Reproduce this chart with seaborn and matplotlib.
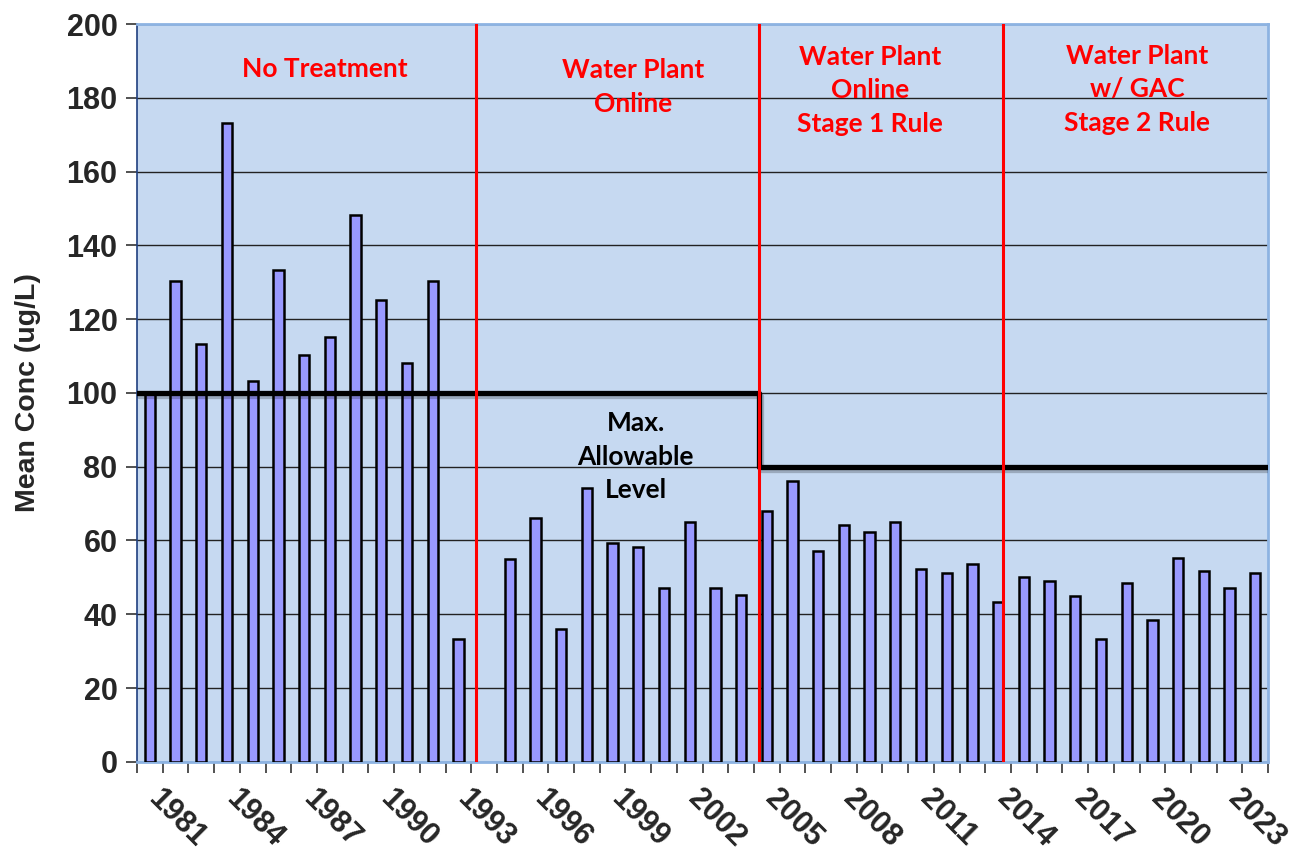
import matplotlib
matplotlib.use("Agg")
import matplotlib.pyplot as plt
import matplotlib.patheffects as pe
from matplotlib.ticker import FixedLocator, NullFormatter
from matplotlib.transforms import ScaledTranslation
import seaborn as sns
import pandas as pd

# years shown on the axis (1994 has no sample)
years = list(range(1981, 2025))
sample_years = [1981, 1982, 1983, 1984, 1985, 1986, 1987, 1988, 1989, 1990, 1991, 1992, 1993,
                1995, 1996, 1997, 1998, 1999, 2000, 2001, 2002, 2003, 2004, 2005, 2006, 2007,
                2008, 2009, 2010, 2011, 2012, 2013, 2014, 2015, 2016, 2017, 2018, 2019, 2020,
                2021, 2022, 2023, 2024]
mean_conc = [100, 130.3, 113.3, 173.2, 103.1, 133.2, 110.3, 115.2, 148.3, 125.3, 108.2, 130.3, 33.2,
             55.1, 66.2, 36.1, 74.2, 59.2, 58.3, 47.0, 65.0, 47.0, 45.2, 68.1, 76.1, 57.2,
             64.2, 62.2, 65.1, 52.2, 51.2, 53.6, 43.2, 50.0, 49.0, 45.0, 33.4, 48.4, 38.4,
             55.2, 51.7, 47.0, 51.1]
tick_years = list(range(1981, 2024, 3))

# regulatory periods (red lines) and max allowable level
period_breaks = [1993.7, 2004.7, 2014.2]
mcl_change = 2004.7
mcl_levels = [100, 80]
period_labels = ["No Treatment", "Water Plant\nOnline", "Water Plant\nOnline\nStage 1 Rule",
                 "Water Plant\nw/ GAC\nStage 2 Rule"]
period_label_x = [1987.8, 1999.8, 2009.0, 2019.4]
period_label_y = [187.7, 183, 182, 182.3]

df = pd.DataFrame({"Year": [str(y) for y in sample_years], "Conc": mean_conc})
order = [str(y) for y in years]
x0 = years[0]

sns.set_style("white")
fig = plt.figure(figsize=(12.93, 8.55), dpi=100)
ax = fig.add_axes([0.106, 0.109, 0.8747, 0.8629])
ax.set_facecolor("#C6D9F1")

sns.barplot(data=df, x="Year", y="Conc", order=order, color="#9999FF", saturation=1,
            width=0.4, edgecolor="black", linewidth=1.8, ax=ax, zorder=3)

ax.set_xlim(-0.5, len(years) - 0.5)
ax.set_ylim(0, 200)
ax.set_yticks(range(0, 201, 20))
ax.yaxis.grid(True, color="#222222", linewidth=1.0, zorder=0)
ax.set_axisbelow(True)

# max allowable level step line
mx = mcl_change - x0
ax.plot([-0.5, mx, mx, len(years) - 0.5],
        [mcl_levels[0], mcl_levels[0], mcl_levels[1], mcl_levels[1]],
        color="black", linewidth=3.8, zorder=5,
        path_effects=[pe.SimpleLineShadow(offset=(1.5, -2.5), alpha=0.22), pe.Normal()])

for b in period_breaks:
    ax.axvline(b - x0, color="red", linewidth=2.2, zorder=6)

for lab, lx, ly in zip(period_labels, period_label_x, period_label_y):
    ax.text(lx - x0, ly, lab, color="red", fontsize=19, fontweight="bold",
            family=["Lato", "DejaVu Sans"], ha="center", va="center",
            multialignment="center", linespacing=1.48, zorder=7)

ax.text(1999.9 - x0, 82.7, "Max.\nAllowable\nLevel", color="black", fontsize=19,
        fontweight="bold", family=["Lato", "DejaVu Sans"], ha="center", va="center",
        multialignment="center", linespacing=1.48, zorder=7)

# x ticks: marks at slot edges, labels every 3rd year
ax.set_xticks([y - x0 for y in tick_years])
ax.set_xticklabels([str(y) for y in tick_years], rotation=-45, ha="left",
                   rotation_mode="anchor", fontsize=22, fontweight="bold",
                   family=["Liberation Sans", "DejaVu Sans"])
ax.tick_params(axis="x", which="major", length=0, pad=16)
shift = ScaledTranslation(10 / 72, 0, fig.dpi_scale_trans)
for t in ax.get_xticklabels():
    t.set_transform(t.get_transform() + shift)
ax.xaxis.set_minor_locator(FixedLocator([i - 0.5 for i in range(len(years) + 1)]))
ax.xaxis.set_minor_formatter(NullFormatter())
ax.tick_params(axis="x", which="minor", length=8, width=1.2, color="#333333", bottom=True)

ax.tick_params(axis="y", length=8, width=1.2, color="#333333", left=True, pad=6)
for t in ax.get_yticklabels():
    t.set_fontsize(22)
    t.set_fontweight("bold")
    t.set_family(["Liberation Sans", "DejaVu Sans"])

ax.set_xlabel("")
ax.set_ylabel("Mean Conc (ug/L)", fontsize=20.5, fontweight="bold",
              family=["Liberation Sans", "DejaVu Sans"], labelpad=18)

for side in ["top", "right", "bottom"]:
    ax.spines[side].set_color("#8DB3E2")
    ax.spines[side].set_linewidth(2)
ax.spines["left"].set_color("#1F3F7F")
ax.spines["left"].set_linewidth(1.2)

fig.savefig("out.png", dpi=100)
